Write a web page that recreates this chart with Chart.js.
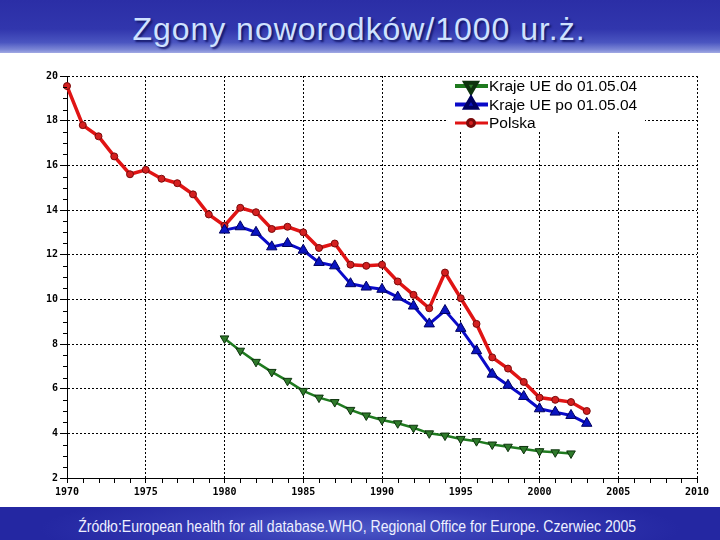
<!DOCTYPE html>
<html>
<head>
<meta charset="utf-8">
<script src="https://cdn.jsdelivr.net/npm/chart.js@4/dist/chart.umd.min.js"></script>
<style>
  html, body { margin: 0; padding: 0; width: 720px; height: 540px; overflow: hidden; background: #fff; }
  #top {
    position: absolute; left: 0; top: 0; width: 720px; height: 53px;
    background: linear-gradient(#2b2ea6 0%, #3136ad 55%, #4a55c0 80%, #7d88d6 94%, #a2aae4 100%);
  }
  #title {
    position: absolute; left: 0; top: 13px; width: 720px; text-align: center;
    font: 32px/32px "Liberation Sans", Arial, sans-serif; color: #cfe2ff;
    text-shadow: 2px 2px 2px #15186a; white-space: nowrap;
  }
  #title span { display: inline-block; position: relative; left: -1px; }
  #wrap { position: absolute; left: 0; top: 52px; width: 720px; height: 455px; }
  #bottom {
    position: absolute; left: 0; top: 507px; width: 720px; height: 33px;
    background: radial-gradient(ellipse 320px 40px at 360px 22px, #4b57c6 0%, #3338b2 50%, #2427a2 100%);
  }
  #source {
    position: absolute; left: 0; top: 518px; width: 720px; text-align: center;
    font: 17px/17px "Liberation Sans", Arial, sans-serif; color: #eef0ff; white-space: nowrap;
  }
  #source span { display: inline-block; position: relative; left: -3px; }
</style>
</head>
<body>
<div id="top"></div>
<div id="title"><span id="titleText">Zgony noworodków/1000 ur.ż.</span></div>
<div id="wrap"><canvas id="myChart" width="720" height="455"></canvas></div>
<div id="bottom"></div>
<div id="source"><span id="sourceText">Źródło:European health for all database.WHO, Regional Office for Europe. Czerwiec 2005</span></div>

<script>
const years = [1970, 1971, 1972, 1973, 1974, 1975, 1976, 1977, 1978, 1979,
               1980, 1981, 1982, 1983, 1984, 1985, 1986, 1987, 1988, 1989,
               1990, 1991, 1992, 1993, 1994, 1995, 1996, 1997, 1998, 1999,
               2000, 2001, 2002, 2003];

// Kraje UE do 01.05.04 (1980-2002)
const ueDo = [null, null, null, null, null, null, null, null, null, null,
              8.25, 7.7, 7.2, 6.75, 6.35, 5.9, 5.6, 5.4, 5.05, 4.8,
              4.6, 4.45, 4.25, 4.0, 3.9, 3.75, 3.65, 3.5, 3.4, 3.3,
              3.2, 3.15, 3.1, null];

// Kraje UE po 01.05.04 (1980-2003)
const uePo = [null, null, null, null, null, null, null, null, null, null,
              13.1, 13.25, 13.0, 12.35, 12.5, 12.2, 11.65, 11.5, 10.7, 10.55,
              10.45, 10.1, 9.7, 8.9, 9.5, 8.7, 7.7, 6.65, 6.15, 5.65,
              5.1, 4.95, 4.8, 4.45];

// Polska (1970-2003)
const polska = [19.55, 17.8, 17.3, 16.4, 15.6, 15.8, 15.4, 15.2, 14.7, 13.8,
                13.3, 14.1, 13.9, 13.15, 13.25, 13.0, 12.3, 12.5, 11.55, 11.5,
                11.55, 10.8, 10.2, 9.6, 11.2, 10.05, 8.9, 7.4, 6.9, 6.3,
                5.6, 5.5, 5.4, 5.0];

const seriesLabels = ['Kraje UE do 01.05.04', 'Kraje UE po 01.05.04', 'Polska'];

const xTicks = [1970, 1975, 1980, 1985, 1990, 1995, 2000, 2005, 2010];
const yTicks = [2, 4, 6, 8, 10, 12, 14, 16, 18, 20];

function points(values) {
  return years.map((yr, i) => ({ x: yr, y: values[i] }));
}

// fit the banner texts to the width they have in the picture
function fit(id, target, spacing) {
  const el = document.getElementById(id);
  const w = el.getBoundingClientRect().width;
  if (spacing) {
    el.style.letterSpacing = ((target - w) / el.textContent.length) + 'px';
  } else {
    el.style.transform = 'scaleX(' + (target / w) + ')';
  }
}
fit('titleText', 453, true);
fit('sourceText', 558, false);

// minor tick marks on both axes
const minorTicks = {
  id: 'minorTicks',
  afterDraw(chart) {
    const ctx = chart.ctx;
    const x = chart.scales.x, y = chart.scales.y;
    ctx.save();
    ctx.strokeStyle = '#000';
    ctx.lineWidth = 1;
    ctx.beginPath();
    for (let v = x.min + 1; v < x.max; v++) {
      if (v % 5 === 0) continue;
      const px = Math.round(x.getPixelForValue(v)) + 0.5;
      ctx.moveTo(px, x.top);
      ctx.lineTo(px, x.top + 5);
    }
    for (let v = y.min + 0.5; v < y.max; v += 0.5) {
      if (v % 2 === 0) continue;
      const py = Math.round(y.getPixelForValue(v)) + 0.5;
      ctx.moveTo(y.right - 4, py);
      ctx.lineTo(y.right, py);
    }
    ctx.stroke();
    ctx.restore();
  }
};

// legend box in the top right corner of the plot
const legendBox = {
  id: 'legendBox',
  afterDatasetsDraw(chart) {
    const ctx = chart.ctx;
    const a = chart.chartArea;
    const left = a.left + 380;
    ctx.save();
    ctx.fillStyle = '#fff';
    ctx.fillRect(left, a.top + 1, 198, 55);
    ctx.font = '15.5px "Liberation Sans", Arial, sans-serif';
    ctx.textBaseline = 'middle';
    chart.data.datasets.forEach((ds, i) => {
      const yy = a.top + 10 + i * 18.5;
      ctx.strokeStyle = ds.borderColor;
      ctx.lineWidth = ds.legendLine;
      ctx.beginPath();
      ctx.moveTo(left + 8, yy);
      ctx.lineTo(left + 41, yy);
      ctx.stroke();
      ctx.fillStyle = ds.pointBackgroundColor;
      ctx.strokeStyle = ds.pointBorderColor;
      Chart.helpers.drawPoint(ctx, {
        pointStyle: ds.pointStyle,
        radius: ds.legendRadius,
        rotation: ds.rotation || 0,
        borderWidth: 1
      }, left + 24, yy);
      ctx.fillStyle = '#000';
      ctx.fillText(ds.label, left + 42, yy + 1);
    });
    ctx.restore();
  }
};

const tickFont = { family: '"DejaVu Sans Mono", monospace', weight: 'bold', size: 10 };

const config = {
  type: 'line',
  data: {
    datasets: [{
      label: seriesLabels[0],
      data: points(ueDo),
      borderColor: '#1f7a1f',
      pointBackgroundColor: '#2e7a2a',
      pointBorderColor: '#0d330d',
      pointStyle: 'triangle',
      rotation: 180,
      pointRadius: 5,
      pointBorderWidth: 1,
      borderWidth: 2.5,
      legendLine: 4,
      legendRadius: 6.5,
      clip: false
    }, {
      label: seriesLabels[1],
      data: points(uePo),
      borderColor: '#0a0ac8',
      pointBackgroundColor: '#0a14c0',
      pointBorderColor: '#000060',
      pointStyle: 'triangle',
      pointRadius: 6,
      pointBorderWidth: 1,
      borderWidth: 3,
      legendLine: 4,
      legendRadius: 6.5,
      clip: false
    }, {
      label: seriesLabels[2],
      data: points(polska),
      borderColor: '#e01414',
      pointBackgroundColor: '#d42020',
      pointBorderColor: '#7a0a0a',
      pointStyle: 'circle',
      pointRadius: 3.5,
      pointBorderWidth: 1,
      borderWidth: 3.5,
      legendLine: 3,
      legendRadius: 3.5,
      clip: false
    }]
  },
  options: {
    responsive: false,
    animation: false,
    layout: { padding: { top: 24, right: 23, left: 0, bottom: 0 } },
    plugins: {
      legend: { display: false },
      tooltip: { enabled: false }
    },
    scales: {
      x: {
        type: 'linear',
        min: xTicks[0],
        max: xTicks[xTicks.length - 1],
        afterBuildTicks: s => { s.ticks = xTicks.map(v => ({ value: v })); },
        ticks: { color: '#000', font: tickFont, padding: 3, maxRotation: 0, autoSkip: false, callback: v => String(v) },
        grid: { color: '#000', lineWidth: 1, tickColor: '#000', tickLength: 5 },
        border: { color: '#000', width: 1, dash: [2, 2] },
        afterFit: s => { s.height = 29; }
      },
      y: {
        type: 'linear',
        min: yTicks[0],
        max: yTicks[yTicks.length - 1],
        afterBuildTicks: s => { s.ticks = yTicks.map(v => ({ value: v })); },
        ticks: { color: '#000', font: tickFont, padding: 2, autoSkip: false },
        grid: { color: '#000', lineWidth: 1, tickColor: '#000', tickLength: 7 },
        border: { color: '#000', width: 1, dash: [2, 2] },
        afterFit: s => { s.width = 67; }
      }
    }
  },
  plugins: [minorTicks, legendBox]
};

const myChart = new Chart(document.getElementById('myChart'), config);
</script>
</body>
</html>
